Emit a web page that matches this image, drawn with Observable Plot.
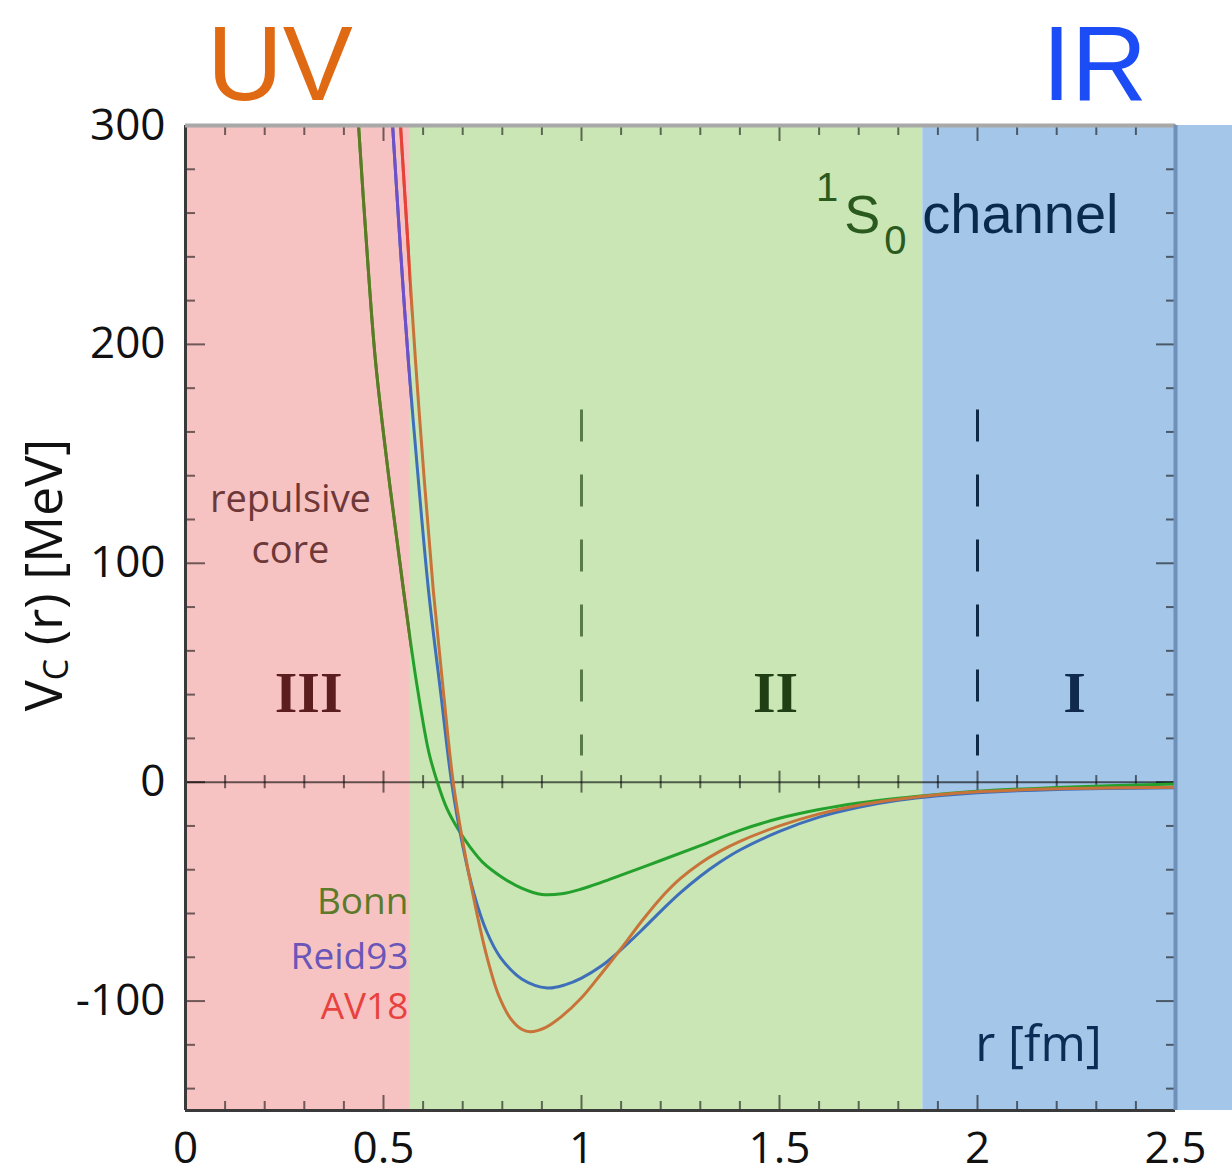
<!DOCTYPE html>
<html><head><meta charset="utf-8">
<script src="https://cdn.jsdelivr.net/npm/d3@7"></script>
<script src="https://cdn.jsdelivr.net/npm/@observablehq/plot@0.6"></script>
<style>
body{margin:0;background:#fff;width:1232px;height:1174px;overflow:hidden;font-family:"Open Sans",sans-serif}
</style></head><body>
<div id="chart"></div>
<script>
// ---- tick values ----
const xMajor = [0, 0.5, 1, 1.5, 2, 2.5];
const xMinor = [0.1,0.2,0.3,0.4,0.6,0.7,0.8,0.9,1.1,1.2,1.3,1.4,1.6,1.7,1.8,1.9,2.1,2.2,2.3,2.4];
const yMajor = [-100, 0, 100, 200, 300];
const yMinor = [-140,-120,-80,-60,-40,-20,20,40,60,80,120,140,160,180,220,240,260,280];

// ---- regions ----
const regionName = ["III", "II", "I"];
const regionFrom = [0, 0.568, 1.862];
const regionTo = [0.568, 1.862, 2.645];
const regionFill = ["#f6c3c2", "#c9e6b4", "#a4c6e9"];
const regionLabelR = [0.311, 1.49, 2.245];
const regionLabelColor = ["#5b1d1d", "#203f14", "#0f2a4c"];
const separatorR = [1, 2];
const separatorColor = ["#587b47", "#0e2a48"];

// ---- potentials V_C(r) [MeV] ----
const rBonn = [0.437,0.457,0.48,0.515,0.551,0.583,0.614,0.636,0.66,0.69,0.72,0.75,0.8,0.85,0.9,0.95,1.0,1.05,1.1,1.2,1.3,1.4,1.5,1.6,1.7,1.8,1.9,2.0,2.2,2.5];
const vBonn = [300,246,192,137,87,46,14,0,-12,-22,-30,-36.5,-43.5,-48.5,-51.3,-51,-48.8,-45.8,-42.5,-35.8,-29,-22,-16.5,-12.5,-9.5,-7.3,-5.6,-4.2,-2.4,-0.8];

const rReid = [0.523,0.543,0.563,0.588,0.614,0.645,0.672,0.70,0.73,0.76,0.795,0.85,0.914,0.96,1.0,1.05,1.1,1.15,1.2,1.25,1.3,1.35,1.4,1.5,1.6,1.7,1.8,1.9,2.0,2.2,2.5];
const vReid = [300,243,192,138,87,40,0,-29,-52,-68,-80,-90,-94,-92.5,-89.5,-84,-76.5,-68,-59,-50.5,-43,-36.5,-31,-22.5,-16,-11.5,-8.3,-6.2,-4.8,-3.3,-2.5];

const rAV18 = [0.543,0.562,0.581,0.603,0.626,0.652,0.676,0.70,0.73,0.76,0.79,0.821,0.85,0.871,0.91,0.95,1.0,1.05,1.1,1.15,1.2,1.25,1.3,1.35,1.4,1.5,1.6,1.7,1.8,1.9,2.0,2.2,2.5];
const vAV18 = [300,245,192,138,87,40,0,-27,-55,-79,-97,-108,-113,-114,-112,-107,-98.5,-87.5,-76,-64,-53,-44,-37,-31.5,-27,-20,-14.5,-10.5,-7.8,-5.8,-4.4,-3,-2.3];

const seriesName = ["Bonn", "Reid93", "AV18"];
const seriesOuterColor = ["#24a02c", "#3e6fb8", "#c8733a"];
const seriesCoreColor = ["#5f7a24", "#7050c8", "#e8403a"];
const seriesLabelV = [-54.8, -80, -102.7];
const seriesLabelColor = ["#5d7a2a", "#6a55b8", "#e8423f"];

const coreText = ["repulsive", "core"];
const coreTextV = [129, 105.5];

// ---- build tables ----
const regions = regionName.map((n, i) => ({n, x1: regionFrom[i], x2: regionTo[i], fill: regionFill[i], lr: regionLabelR[i], lc: regionLabelColor[i]}));
const curves = [[rBonn, vBonn], [rReid, vReid], [rAV18, vAV18]].map(([rs, vs]) => rs.map((r, i) => ({r, v: vs[i]})));
const seriesLabels = seriesName.map((s, i) => ({s, v: seriesLabelV[i], c: seriesLabelColor[i]}));
const coreLabels = coreText.map((t, i) => ({t, v: coreTextV[i]}));
const seps = separatorR.map((r, i) => ({r, c: separatorColor[i]}));

const tickStyle = {stroke: "#000", strokeOpacity: 0.55, strokeWidth: 2, text: null, label: null};

const marks = [
  Plot.rect(regions, {x1: "x1", x2: "x2", y1: -150, y2: 300, fill: "fill"}),
  Plot.ruleX(seps, {x: "r", y1: 170, y2: 12, stroke: "c", strokeWidth: 3, strokeDasharray: "32,33"}),
  Plot.ruleY([0], {stroke: "#000", strokeOpacity: 0.6, strokeWidth: 2}),
  Plot.ruleX(xMinor, {y1: -3, y2: 3, stroke: "#000", strokeOpacity: 0.55, strokeWidth: 2}),
  Plot.ruleX(xMajor, {y1: -5, y2: 5, stroke: "#000", strokeOpacity: 0.55, strokeWidth: 2}),
  Plot.axisX({anchor: "bottom", ticks: xMinor, tickSize: -9, ...tickStyle}),
  Plot.axisX({anchor: "bottom", ticks: xMajor, tickSize: -15, ...tickStyle}),
  Plot.axisX({anchor: "top", ticks: xMinor, tickSize: -9, ...tickStyle}),
  Plot.axisX({anchor: "top", ticks: xMajor, tickSize: -15, ...tickStyle}),
  Plot.axisY({anchor: "left", ticks: yMinor, tickSize: -10, ...tickStyle}),
  Plot.axisY({anchor: "left", ticks: yMajor, tickSize: -20, ...tickStyle}),
  Plot.axisY({anchor: "right", ticks: yMinor, tickSize: -10, ...tickStyle}),
  Plot.axisY({anchor: "right", ticks: yMajor, tickSize: -20, ...tickStyle}),
];
curves.forEach((data, i) => {
  marks.push(Plot.line(data, {x: "r", y: "v", stroke: seriesOuterColor[i], strokeWidth: 3, curve: "catmull-rom", clip: true}));
});
curves.forEach((data, i) => {
  marks.push(Plot.line(data, {x: "r", y: "v", stroke: seriesCoreColor[i], strokeWidth: 3, curve: "catmull-rom"}));
});
marks.push(
  Plot.ruleX([0], {stroke: "#3a3a3a", strokeWidth: 3}),
  Plot.ruleY([-150], {stroke: "#3a3a3a", strokeWidth: 3}),
  Plot.ruleY([300], {stroke: "#a8a8a8", strokeWidth: 4}),
  Plot.ruleX([2.5], {stroke: "#6f90b8", strokeWidth: 4}),
  Plot.axisY({anchor: "left", ticks: yMajor, tickSize: 0, tickPadding: 20, fontSize: 44, color: "#111", label: null, tickFormat: d => String(d)}),
  Plot.axisX({anchor: "bottom", ticks: xMajor, tickSize: 0, tickPadding: 21, fontSize: 44, color: "#111", label: null, tickFormat: d => String(d)}),
  Plot.text(regions, {x: "lr", y: 40.5, text: "n", fill: "lc", fontSize: 58, fontWeight: "bold", fontFamily: "Liberation Serif"}),
  Plot.text(coreLabels, {x: 0.265, y: "v", text: "t", fill: "#6e3838", fontSize: 38}),
  Plot.text(seriesLabels, {x: 0.563, y: "v", text: "s", fill: "c", fontSize: 37, textAnchor: "end"}),
  Plot.text(["r [fm]"], {x: 2.154, y: -120, text: d => d, fill: "#0b2c55", fontSize: 49})
);

const plot = Plot.plot({
  width: 1232, height: 1174,
  marginTop: 125, marginBottom: 64, marginLeft: 185, marginRight: 57,
  x: {domain: [0, 2.5]},
  y: {domain: [-150, 300]},
  style: {fontFamily: "Open Sans", background: "transparent", overflow: "visible", display: "block"},
  marks
});
document.getElementById("chart").appendChild(plot);

const svg = d3.select(plot);
const xs = plot.scale("x"), ys = plot.scale("y");
svg.append("defs").append("clipPath").attr("id", "clipCore").append("rect")
  .attr("x", xs.apply(0)).attr("y", ys.apply(300))
  .attr("width", xs.apply(0.568) - xs.apply(0)).attr("height", ys.apply(-150) - ys.apply(300));
seriesCoreColor.forEach(c => {
  svg.selectAll(`[stroke="${c}"]`).each(function() {
    const grp = this.tagName === "g" ? this : this.closest("g");
    grp.setAttribute("clip-path", "url(#clipCore)");
  });
});

// UV / IR headings
const head = svg.append("g").style("font-family", "Liberation Sans").attr("font-size", 105);
head.append("text").attr("x", 207).attr("y", 100).attr("text-anchor", "start").attr("fill", "#e06a14").text("UV");
head.append("text").attr("x", 1042).attr("y", 100).attr("text-anchor", "start").attr("fill", "#1b4cf6").text("IR");

// y axis label with subscript
const yl = svg.append("text").attr("transform", "translate(62,575) rotate(-90)")
  .attr("text-anchor", "middle").attr("fill", "#111").style("font-family", "Open Sans");
yl.append("tspan").attr("font-size", 52).text("V");
yl.append("tspan").attr("font-size", 34).attr("dy", 6).text("C");
yl.append("tspan").attr("font-size", 52).attr("dy", -6).text(" (r) [MeV]");

// 1S0 channel
const cx = xs.apply(1.862), cy = ys.apply(250.7);
const g = svg.append("g").style("font-family", "Liberation Sans");
g.append("text").attr("x", cx).attr("y", cy).attr("text-anchor", "start").attr("font-size", 56).attr("fill", "#0a2a4d").text("channel");
g.append("text").attr("x", cx - 42).attr("y", cy).attr("text-anchor", "end").attr("font-size", 54).attr("fill", "#2b5a1e").text("S");
g.append("text").attr("x", cx - 84).attr("y", cy - 32).attr("text-anchor", "end").attr("font-size", 40).attr("fill", "#2b5a1e").text("1");
g.append("text").attr("x", cx - 38).attr("y", cy + 21).attr("text-anchor", "start").attr("font-size", 40).attr("fill", "#2b5a1e").text("0");
</script>
</body></html>
